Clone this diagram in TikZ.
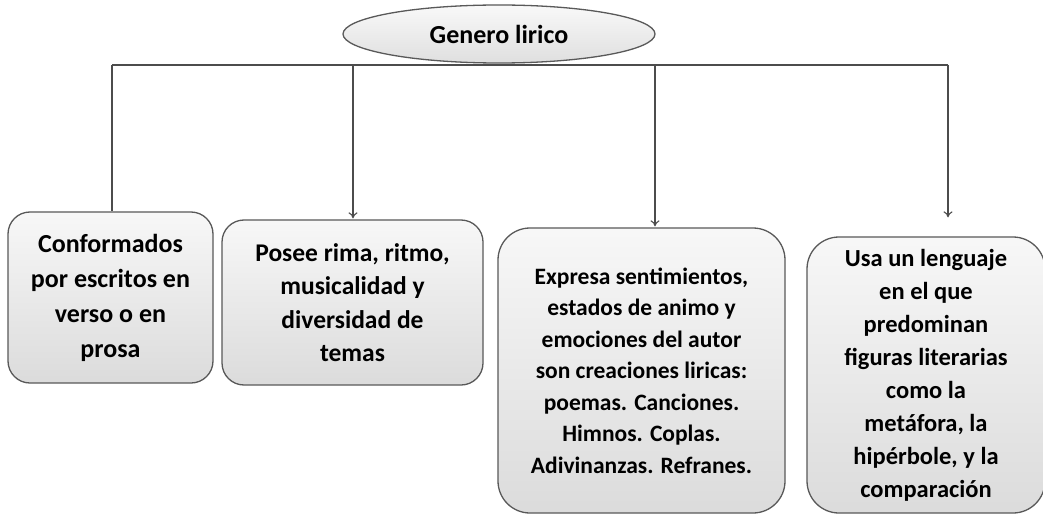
\documentclass[tikz,border=0pt]{standalone}
\usepackage{fontspec}
\setmainfont{Carlito}
\usetikzlibrary{arrows.meta,shapes.geometric}
\begin{document}
\begin{tikzpicture}[x=1pt,y=1pt,
  box/.style={draw=black!65, line width=1.3pt, top color=gray!6, bottom color=gray!28,
    align=center, inner sep=0pt},
  con/.style={draw=black!70, line width=1.1pt},
  arr/.style={con, -{To[length=6pt,width=9pt]}}]
\useasboundingbox (0,0) rectangle (1043,-516);
\fill[white] (0,0) rectangle (1043,-516);
\node[ellipse, draw=black!65, line width=1.3pt, top color=gray!5, bottom color=gray!25,
  minimum width=312, minimum height=58, inner sep=0pt,
  font=\fontsize{26}{30}\selectfont\bfseries] (ell) at (499,-34) {Genero lirico};
\node[box, rounded corners=22pt, minimum width=205, minimum height=171,
  font=\fontsize{26}{35}\selectfont\bfseries] (b1) at (110.5,-297.5)
  {Conformados\\por escritos en\\verso o en\\prosa};
\node[box, rounded corners=22pt, minimum width=261, minimum height=165,
  font=\fontsize{25.5}{33.5}\selectfont\bfseries] (b2) at (352.5,-302.5)
  {Posee rima, ritmo,\\musicalidad y\\diversidad de\\temas};
\node[box, rounded corners=32pt, minimum width=287, minimum height=285,
  font=\fontsize{23.5}{31.5}\selectfont\bfseries] (b3) at (641.5,-370.5)
  {Expresa sentimientos,\\estados de animo y\\emociones del autor\\son creaciones liricas:\\poemas. Canciones.\\Himnos. Coplas.\\Adivinanzas. Refranes.};
\node[box, rounded corners=32pt, minimum width=238, minimum height=276,
  font=\fontsize{24.5}{33}\selectfont\bfseries] (b4) at (926,-375)
  {Usa un lenguaje\\en el que\\predominan\\figuras literarias\\como la\\metáfora, la\\hipérbole, y la\\comparación};
\coordinate (h1) at (112,-65);
\coordinate (h2) at (353,-65);
\coordinate (h3) at (655,-65);
\coordinate (h4) at (948,-65);
\draw[con, line width=1.8pt] (h1) -- (h4);
\draw[con] (h1) -- (h1 |- b1.north);
\draw[arr] (h2) -- ([yshift=1pt]h2 |- b2.north);
\draw[arr] (h3) -- ([yshift=1pt]h3 |- b3.north);
\draw[arr] (h4) -- ([yshift=19pt]h4 |- b4.north);
\end{tikzpicture}
\end{document}
